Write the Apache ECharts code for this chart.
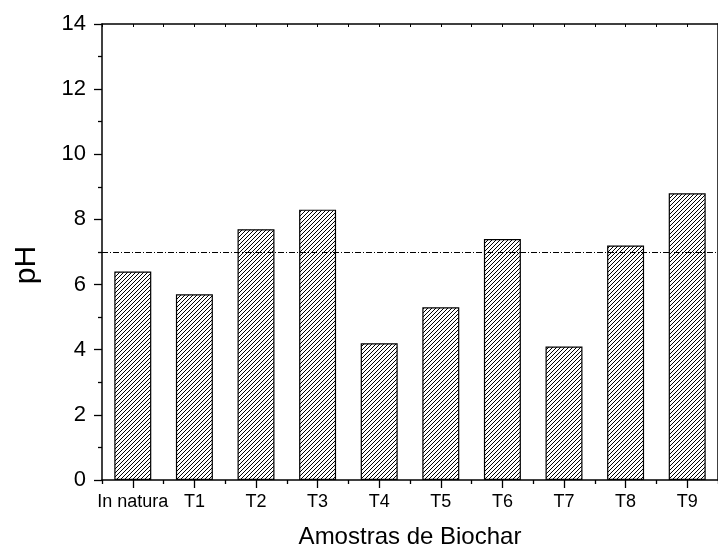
<!DOCTYPE html>
<html>
<head>
<meta charset="utf-8">
<script src="https://cdn.jsdelivr.net/npm/echarts@6/dist/echarts.min.js"></script>
<style>
  html, body { margin: 0; padding: 0; background: #fff; }
  #chart { width: 718px; height: 554px; }
</style>
</head>
<body>
<div id="chart"></div>
<script>
// Biochar samples and their measured pH
const samples = ['In natura', 'T1', 'T2', 'T3', 'T4', 'T5', 'T6', 'T7', 'T8', 'T9'];
const phValues = [6.4, 5.7, 7.7, 8.3, 4.2, 5.3, 7.4, 4.1, 7.2, 8.8];
const neutralPH = 7;
const yTicks = { min: 0, max: 14, step: 2 };

const FONT = '"Liberation Sans", Arial, sans-serif';

// Diagonal hatch fill for the bars
function hatchPattern(size) {
  const c = document.createElement('canvas');
  c.width = size; c.height = size;
  const g = c.getContext('2d');
  g.fillStyle = '#fff';
  g.fillRect(0, 0, size, size);
  g.strokeStyle = '#000';
  g.lineWidth = 1;
  g.beginPath();
  g.moveTo(-1, size + 1); g.lineTo(size + 1, -1);
  g.moveTo(-1, 1); g.lineTo(1, -1);
  g.moveTo(size - 1, size + 1); g.lineTo(size + 1, size - 1);
  g.stroke();
  return { image: c, repeat: 'repeat' };
}

const chart = echarts.init(document.getElementById('chart'), null, { renderer: 'canvas' });
const axisLine = { show: true, onZero: false, lineStyle: { color: '#000', width: 1.5 } };

chart.setOption({
  animation: false,
  backgroundColor: '#fff',
  grid: { left: 102, right: -7, top: 24, bottom: 68, containLabel: false },
  xAxis: [
    {
      type: 'category', position: 'bottom', data: samples,
      axisLine: axisLine,
      axisTick: { show: true, length: 4, lineStyle: { color: '#000', width: 1.3 } },
      axisLabel: { color: '#000', fontSize: 18, fontFamily: FONT, margin: 13, interval: 0 },
      name: 'Amostras de Biochar', nameLocation: 'middle', nameGap: 45,
      nameTextStyle: { color: '#000', fontSize: 24, fontFamily: FONT },
      splitLine: { show: false }
    },
    {
      type: 'category', position: 'bottom', data: samples,
      axisLine: { show: false, onZero: false },
      axisTick: { show: true, alignWithLabel: true, interval: 0, length: 8, lineStyle: { color: '#000', width: 1.3 } },
      axisLabel: { show: false },
      splitLine: { show: false }
    },
    {
      type: 'value', position: 'top', min: -0.5, max: samples.length - 0.5, interval: 0.5,
      axisLine: axisLine,
      axisTick: { show: true, inside: true, length: 3, lineStyle: { color: '#000', width: 1 } },
      axisLabel: { show: false },
      splitLine: { show: false }
    }
  ],
  yAxis: [
    {
      type: 'value', position: 'left', min: yTicks.min, max: yTicks.max, interval: yTicks.step,
      axisLine: axisLine,
      axisTick: { show: true, length: 8, lineStyle: { color: '#000', width: 1.3 } },
      minorTick: { show: true, splitNumber: 2, length: 4, lineStyle: { color: '#000', width: 1.3 } },
      axisLabel: { color: '#000', fontSize: 22, fontFamily: FONT, margin: 16 },
      splitLine: { show: false },
      name: 'pH', nameLocation: 'middle', nameGap: 60,
      nameTextStyle: { color: '#000', fontSize: 30, fontFamily: FONT, padding: [0, 26, 0, 0] }
    },
    {
      type: 'value', position: 'right', min: yTicks.min, max: yTicks.max, interval: yTicks.step,
      axisLine: axisLine, axisTick: { show: false }, axisLabel: { show: false },
      splitLine: { show: false }
    }
  ],
  series: [
    {
      type: 'bar',
      xAxisIndex: 0, yAxisIndex: 0,
      data: phValues,
      barWidth: '60%',
      itemStyle: { color: hatchPattern(4), borderColor: '#000', borderWidth: 1.2 },
      markLine: {
        silent: true,
        symbol: ['none', 'none'],
        label: { show: false },
        lineStyle: { color: '#000', width: 1, type: [6, 2, 1, 2] },
        data: [{ yAxis: neutralPH }]
      }
    }
  ]
});
</script>
</body>
</html>
